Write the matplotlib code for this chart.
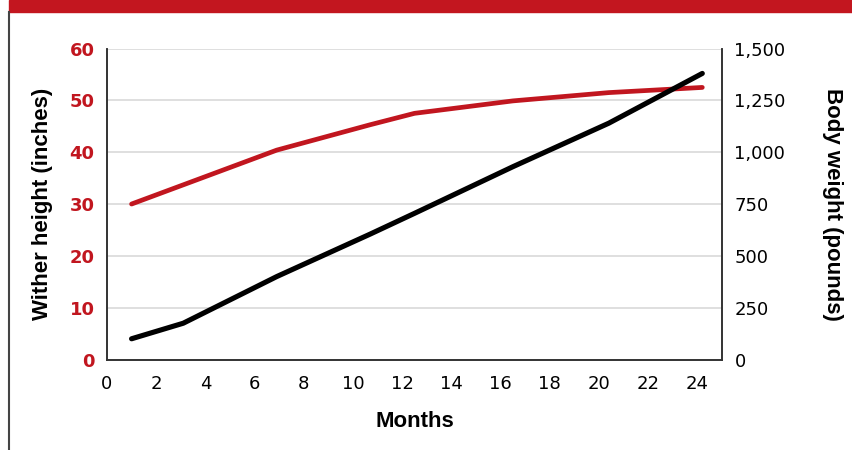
"""
plot.py - Wither height and body weight by age
"""

import matplotlib
matplotlib.use("Agg")
import matplotlib.pyplot as plt
from matplotlib.ticker import FuncFormatter
from matplotlib.patches import Rectangle
from matplotlib.lines import Line2D


# ==============================
# Data
# ==============================
months = [1, 3.1, 6.9, 10.7, 12.5, 16.5, 20.4, 24.2]
height_in = [30, 33.7, 40.4, 45.3, 47.5, 49.9, 51.5, 52.5]
weight_lb = [100, 175, 400, 605, 705, 930, 1140, 1380]

x_ticks = list(range(0, 25, 2))
height_ticks = [0, 10, 20, 30, 40, 50, 60]
weight_ticks = [0, 250, 500, 750, 1000, 1250, 1500]

RED = "#C1161F"
GRID = "#D9D9D9"
SPINE = "#333333"
TICK_FONT = ["DejaVu Sans"]
LABEL_FONT = ["Liberation Sans", "DejaVu Sans"]

plt.rcParams["font.family"] = LABEL_FONT

fig = plt.figure(figsize=(8.53, 4.5), dpi=100)
ax = fig.add_axes([0.1254, 0.2011, 0.721, 0.691])
ax2 = ax.twinx()

# ------------------------------
# Lines
# ------------------------------
ax.plot(months, height_in, color=RED, lw=3.4, solid_capstyle="round",
        solid_joinstyle="round", zorder=3)
ax2.plot(months, weight_lb, color="black", lw=3.7, solid_capstyle="round",
         solid_joinstyle="round", zorder=3)

# ------------------------------
# Axes styling
# ------------------------------
ax.set_xlim(0, 25)
ax.set_ylim(0, 60)
ax2.set_ylim(0, 1500)
ax.set_xticks(x_ticks)
ax.set_yticks(height_ticks)
ax2.set_yticks(weight_ticks)
ax2.yaxis.set_major_formatter(FuncFormatter(lambda v, p: f"{int(v):,}"))

ax.grid(axis="y", color=GRID, lw=1.2, zorder=0)
ax.set_axisbelow(True)

for a in (ax, ax2):
    a.spines["top"].set_visible(False)
    for s in ("left", "right", "bottom"):
        a.spines[s].set_color(SPINE)
        a.spines[s].set_linewidth(1.2)

ax.tick_params(axis="x", length=0, pad=11)
ax.tick_params(axis="y", length=0, pad=9, labelcolor=RED)
ax2.tick_params(axis="y", length=0, pad=9, labelcolor="black")
for lbl in ax.get_xticklabels() + ax2.get_yticklabels():
    lbl.set_fontfamily(TICK_FONT)
    lbl.set_fontsize(13)
for lbl in ax.get_yticklabels():
    lbl.set_fontfamily(TICK_FONT)
    lbl.set_fontsize(13)
    lbl.set_fontweight("bold")

ax.set_xlabel("Months", fontsize=16, fontweight="bold", labelpad=13)
ax.set_ylabel("Wither height (inches)", fontsize=16, fontweight="bold", labelpad=12)
ax2.set_ylabel("Body weight (pounds)", fontsize=16, fontweight="bold",
               rotation=270, labelpad=41)

# ------------------------------
# Frame: red banner and left rule
# ------------------------------
fig.patches.append(Rectangle((9 / 853, 1 - 12 / 450), 1, 12 / 450,
                             transform=fig.transFigure, color="#C3161F",
                             zorder=0))
fig.lines.append(Line2D([9 / 853, 9 / 853], [0, 1 - 12 / 450],
                        transform=fig.transFigure, color="#444444", lw=1.5))

fig.savefig("out.png", dpi=100)
